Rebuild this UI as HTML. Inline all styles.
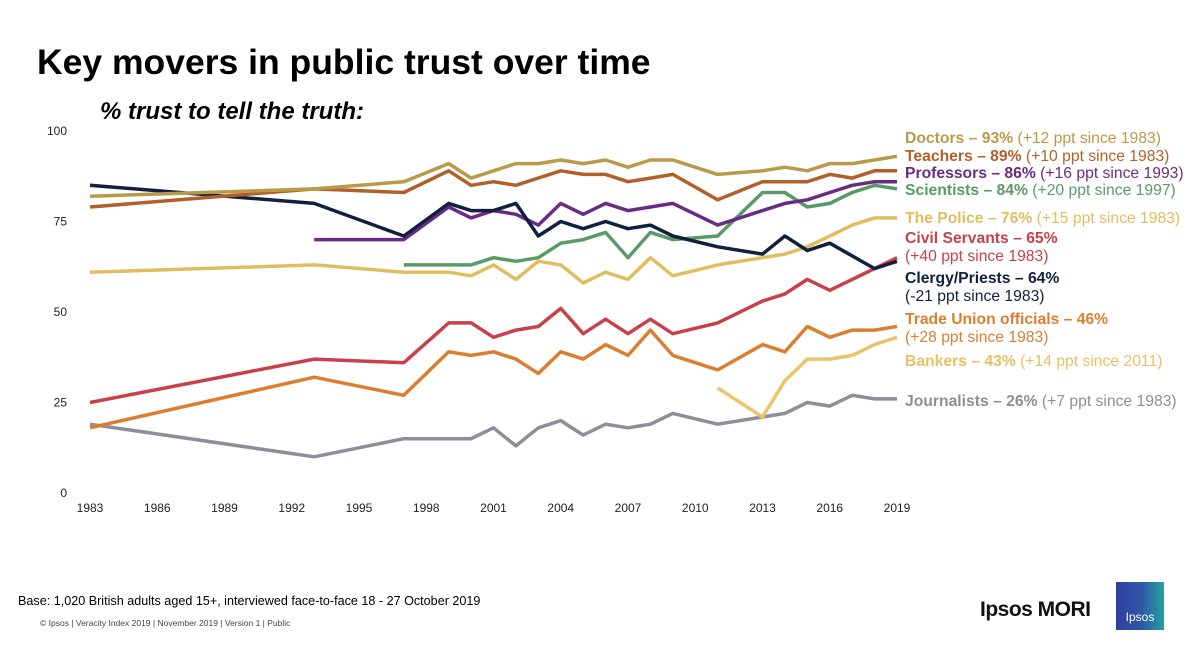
<!DOCTYPE html>
<html><head><meta charset="utf-8"><style>
body{margin:0;width:1200px;height:638px;background:#fff;font-family:"Liberation Sans",sans-serif;overflow:hidden;position:relative}
.t{position:absolute;white-space:nowrap}
.lg{position:absolute;left:905px;font-size:15.7px;line-height:18px;white-space:nowrap}
.lg b{font-weight:bold}
</style></head><body>
<div class="t" style="left:37px;top:42px;font-size:35.5px;font-weight:bold;color:#000">Key movers in public trust over time</div>
<div class="t" style="left:100px;top:98px;font-size:24px;font-weight:bold;font-style:italic;color:#000">% trust to tell the truth:</div>
<svg id="chart" width="1200" height="638" style="position:absolute;left:0;top:0"></svg>
<div class="lg" style="top:130px;color:#b89a4a"><b>Doctors – 93%</b> (+12 ppt since 1983)</div>
<div class="lg" style="top:148px;color:#b0602a"><b>Teachers – 89%</b> (+10 ppt since 1983)</div>
<div class="lg" style="top:165px;color:#6a2c82"><b>Professors – 86%</b> (+16 ppt since 1993)</div>
<div class="lg" style="top:182px;color:#5a9a68"><b>Scientists – 84%</b> (+20 ppt since 1997)</div>
<div class="lg" style="top:210px;color:#e0be60"><b>The Police – 76%</b> (+15 ppt since 1983)</div>
<div class="lg" style="top:230px;color:#c8404c"><b>Civil Servants – 65%</b><br>(+40 ppt since 1983)</div>
<div class="lg" style="top:270px;color:#12203f"><b>Clergy/Priests – 64%</b><br>(-21 ppt since 1983)</div>
<div class="lg" style="top:311px;color:#dc7e30"><b>Trade Union officials – 46%</b><br>(+28 ppt since 1983)</div>
<div class="lg" style="top:353px;color:#e6c066"><b>Bankers – 43%</b> (+14 ppt since 2011)</div>
<div class="lg" style="top:393px;color:#8e8e9a"><b>Journalists – 26%</b> (+7 ppt since 1983)</div>
<div class="t" style="left:18px;top:594px;font-size:12.6px;color:#000">Base: 1,020 British adults aged 15+, interviewed face-to-face 18 - 27 October 2019</div>
<div class="t" style="left:40px;top:618px;font-size:8.5px;color:#444">© Ipsos | Veracity Index 2019 | November 2019 | Version 1 | Public</div>
<div class="t" style="left:980px;top:598px;font-size:21px;font-weight:bold;color:#111;letter-spacing:-0.5px">Ipsos MORI</div>
<div style="position:absolute;left:1116px;top:582px;width:48px;height:48px;background:linear-gradient(90deg,#2e3f9e,#2e5aa8 55%,#25a0a0);color:#fff;font-size:12px;text-align:center;line-height:70px">Ipsos</div>
<script>
const years=[1983,1993,1997,1999,2000,2001,2002,2003,2004,2005,2006,2007,2008,2009,2011,2013,2014,2015,2016,2017,2018,2019];
const doctors=[82,84,86,91,87,89,91,91,92,91,92,90,92,92,88,89,90,89,91,91,92,93];
const teachers=[79,84,83,89,85,86,85,87,89,88,88,86,87,88,81,86,86,86,88,87,89,89];
const professors=[null,70,70,79,76,78,77,74,80,77,80,78,79,80,74,78,80,81,83,85,86,86];
const scientists=[null,null,63,63,63,65,64,65,69,70,72,65,72,70,71,83,83,79,80,83,85,84];
const clergy=[85,80,71,80,78,78,80,71,75,73,75,73,74,71,68,66,71,67,69,null,62,64];
const police=[61,63,61,61,60,63,59,64,63,58,61,59,65,60,63,65,66,68,71,74,76,76];
const civil=[25,37,36,47,47,43,45,46,51,44,48,44,48,44,47,53,55,59,56,null,62,65];
const tradeUnion=[18,32,27,39,38,39,37,33,39,37,41,38,45,38,34,41,39,46,43,45,45,46];
const bankers=[null,null,null,null,null,null,null,null,null,null,null,null,null,null,29,21,31,37,37,38,41,43];
const journalists=[19,10,15,15,15,18,13,18,20,16,19,18,19,22,19,21,22,25,24,27,26,26];
const yTicks=[0,25,50,75,100];
const xTicks=[1983,1986,1989,1992,1995,1998,2001,2004,2007,2010,2013,2016,2019];
const series=[
 ['journalists',journalists,'#8e8e9a'],['bankers',bankers,'#ebc468'],['trade-union',tradeUnion,'#dc7e30'],
 ['civil-servants',civil,'#c8404c'],['police',police,'#e0be60'],['scientists',scientists,'#5a9a68'],
 ['professors',professors,'#6a2c82'],['clergy',clergy,'#12203f'],['teachers',teachers,'#b0602a'],['doctors',doctors,'#b89a4a']];
const NS='http://www.w3.org/2000/svg';
const svg=document.getElementById('chart');
const X=y=>90+(y-1983)*(897-90)/36;
const Y=v=>493-v*3.62;
for(const t of yTicks){
 const e=document.createElementNS(NS,'text');
 
 
 e.setAttribute('x',67);e.setAttribute('y',Y(t)+4);e.setAttribute('text-anchor','end');
 e.setAttribute('font-size','12');e.setAttribute('fill','#222');e.textContent=t;svg.appendChild(e);
}
for(const t of xTicks){
 const e=document.createElementNS(NS,'text');
 
 
 e.setAttribute('x',X(t));e.setAttribute('y',512);e.setAttribute('text-anchor','middle');
 e.setAttribute('font-size','12');e.setAttribute('fill','#222');e.textContent=t;svg.appendChild(e);
}
for(const [name,vals,col] of series){
 let d='';let started=false;
 vals.forEach((v,i)=>{if(v==null)return;d+=(started?'L':'M')+X(years[i]).toFixed(1)+' '+Y(v).toFixed(1);started=true;});
 const p=document.createElementNS(NS,'path');
 
 
 p.setAttribute('d',d);p.setAttribute('fill','none');p.setAttribute('stroke',col);
 p.setAttribute('stroke-width','3.5');p.setAttribute('stroke-linejoin','round');
 svg.appendChild(p);
}
</script>
</body></html>
